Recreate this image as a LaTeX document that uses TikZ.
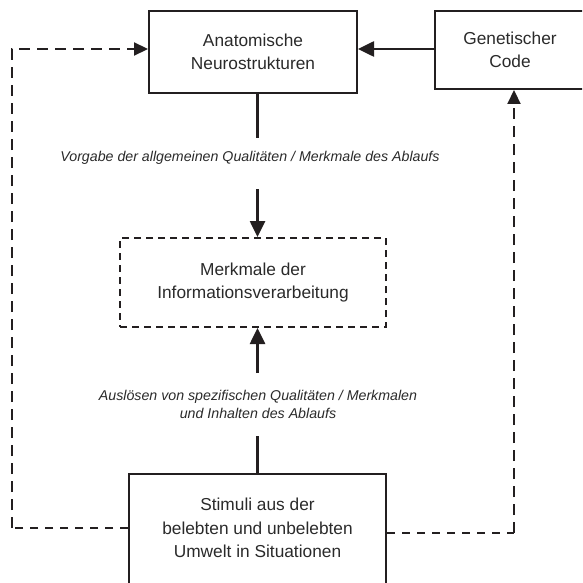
\documentclass[tikz,border=0pt]{standalone}
\usepackage{fontspec}
\setmainfont{Liberation Sans}
\usetikzlibrary{arrows.meta}
\definecolor{ink}{HTML}{231F20}
\definecolor{txt}{HTML}{2A2A2A}
\begin{document}
\begin{tikzpicture}[x=1pt,y=-1pt, color=ink,
  box/.style={draw=ink, text=txt, line width=2pt, inner sep=0pt, align=center,
    font=\fontsize{17.3}{23.5}\selectfont},
  note/.style={inner sep=0pt, align=center, text=txt,
    font=\fontsize{14.2}{18}\selectfont\itshape},
  flow/.style={line width=2.6pt, -{Triangle[length=16pt,width=15pt]}},
  plain/.style={line width=2.6pt},
  loop/.style={line width=2.2pt, dash pattern=on 11pt off 7pt},
  loopend/.style={loop, -{Triangle[length=14pt,width=13pt]}},
  loopfoot/.style={line width=2.2pt, dash pattern=on 8pt off 7pt},
]
\useasboundingbox (0,0) rectangle (582,583);
\clip (0,0) rectangle (582,583);

% boxes
\node[box, minimum width=208pt, minimum height=82pt] (anat) at (253,52)
  {Anatomische\\Neurostrukturen};
\node[box, minimum width=150pt, minimum height=78pt] (gen) at (510,50)
  {Genetischer\\Code};
\node[box, dash pattern=on 7pt off 5pt, minimum width=266pt, minimum height=89pt]
  (merk) at (253,282.5) {Merkmale der\\Informationsverarbeitung};
\node[box, minimum width=257pt, minimum height=116pt] (stim) at (257.5,532)
  {Stimuli aus der\\belebten und unbelebten\\Umwelt in Situationen\\[-15.5pt]};

% labels on the vertical flow
\node[note] (t1) at (250,158)
  {Vorgabe der allgemeinen Qualitäten / Merkmale des Ablaufs};
\node[note] (t2) at (258,404)
  {Auslösen von spezifischen Qualitäten / Merkmalen\\und Inhalten des Ablaufs};

% helper coordinates
\coordinate (a1) at (257.5,138);
\coordinate (a2) at (257.5,189);
\coordinate (b1) at (257.5,373);
\coordinate (b2) at (257.5,436);
\coordinate (h)  at (0,49);
\coordinate (L)  at (12,0);
\coordinate (lb) at (0,528);
\coordinate (R)  at (514,0);
\coordinate (rb) at (0,533);

% solid connectors
\draw[plain] (anat.south -| a1) -- (a1);
\draw[flow] (a2) -- (merk.north -| a2);
\draw[flow] (b1) -- (merk.south -| b1);
\draw[plain] (stim.north -| b2) -- (b2);
\draw[flow] (gen.west |- h) -- (anat.east |- h);

% dashed feedback loops
\draw[loopfoot] (stim.west |- lb) -- (L |- lb);
\draw[loopend] (L |- lb) -- (L |- h) -- (anat.west |- h);
\draw[loopfoot] (stim.east |- rb) -- (R |- rb);
\draw[loopend] (R |- rb) -- (gen.south -| R);
\end{tikzpicture}
\end{document}
